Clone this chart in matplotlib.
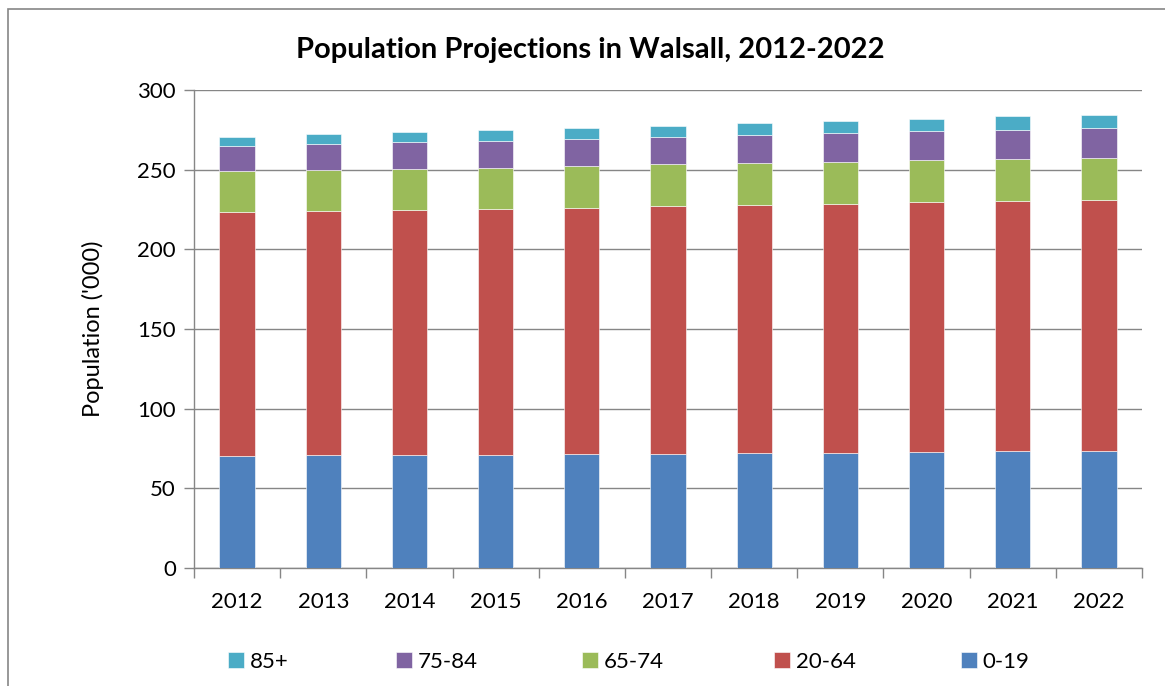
import matplotlib
matplotlib.use("Agg")
import matplotlib.pyplot as plt
from matplotlib.patches import Rectangle
import numpy as np

plt.rcParams['font.family'] = ['Lato', 'DejaVu Sans']

years = ['2012', '2013', '2014', '2015', '2016', '2017', '2018', '2019', '2020', '2021', '2022']
age_0_19 = [70.4, 70.8, 70.8, 70.8, 71.5, 71.7, 72.1, 72.1, 72.7, 73.3, 73.7]
age_20_64 = [153.0, 153.0, 153.7, 154.3, 154.6, 155.4, 155.5, 156.3, 156.8, 157.0, 157.2]
age_65_74 = [25.7, 25.7, 25.9, 26.1, 26.4, 26.3, 26.3, 26.4, 26.3, 26.1, 26.2]
age_75_84 = [15.9, 16.8, 16.9, 16.9, 16.7, 17.1, 17.8, 18.2, 18.4, 18.6, 19.0]
age_85p = [5.8, 5.8, 6.1, 6.5, 6.9, 7.2, 7.3, 7.5, 7.7, 8.4, 8.5]

series = [('0-19', age_0_19, '#4F81BD'),
          ('20-64', age_20_64, '#C0504D'),
          ('65-74', age_65_74, '#9BBB59'),
          ('75-84', age_75_84, '#8064A2'),
          ('85+', age_85p, '#4BACC6')]

fig = plt.figure(figsize=(11.65, 6.86), dpi=100)
W, H = 1165, 686
# outer chart frame (cropped on right/bottom)
fig.patches.append(Rectangle((8 / W, -0.1), 1.2, 1 - 9 / H + 0.1, transform=fig.transFigure,
                             fill=False, edgecolor='#868686', linewidth=1.2))

ax = fig.add_axes([194 / W, 1 - 568 / H, (1142 - 194) / W, (568 - 90) / H])
x = np.arange(len(years))
bottom = np.zeros(len(years))
handles = {}
for name, vals, col in series:
    b = ax.bar(x, vals, width=0.41, bottom=bottom, color=col, edgecolor='white',
               linewidth=0.4, zorder=3, label=name)
    handles[name] = b
    bottom += np.array(vals)

ax.set_xlim(-0.5, len(years) - 0.5)
ax.set_ylim(0, 300)
ax.set_yticks(np.arange(0, 301, 50))
ax.yaxis.grid(True, color='#868686', linewidth=1.0, zorder=0)
ax.set_axisbelow(True)
for s in ['top', 'right']:
    ax.spines[s].set_visible(False)
for s in ['left', 'bottom']:
    ax.spines[s].set_color('#868686')
    ax.spines[s].set_linewidth(1.0)

ax.set_xticks(np.arange(-0.5, len(years), 1.0), minor=False)
ax.set_xticklabels([])
ax.set_xticks(x, minor=True)
ax.set_xticklabels(years, minor=True)
ax.tick_params(axis='x', which='major', length=7, color='#868686', width=1.0)
ax.tick_params(axis='x', which='minor', length=0, labelsize=16, pad=17)
ax.tick_params(axis='y', length=7, color='#868686', width=1.0, labelsize=16, pad=6)

ax.set_ylabel("Population ('000)", fontsize=17, labelpad=24)

fig.text(590 / W, 1 - 50 / H, 'Population Projections in Walsall, 2012-2022',
         ha='center', va='center', fontsize=21, fontweight='bold')

order = ['85+', '75-84', '65-74', '20-64', '0-19']
leg_x = [228, 396, 582, 774, 961]
for n, lx in zip(order, leg_x):
    leg = fig.legend([handles[n]], [n], loc='center left',
                     bbox_to_anchor=(lx / W, 1 - 662 / H), frameon=False,
                     fontsize=16, handlelength=0.72, handleheight=0.72,
                     handletextpad=0.25, borderpad=0, borderaxespad=0)

fig.savefig('out.png', dpi=100)
